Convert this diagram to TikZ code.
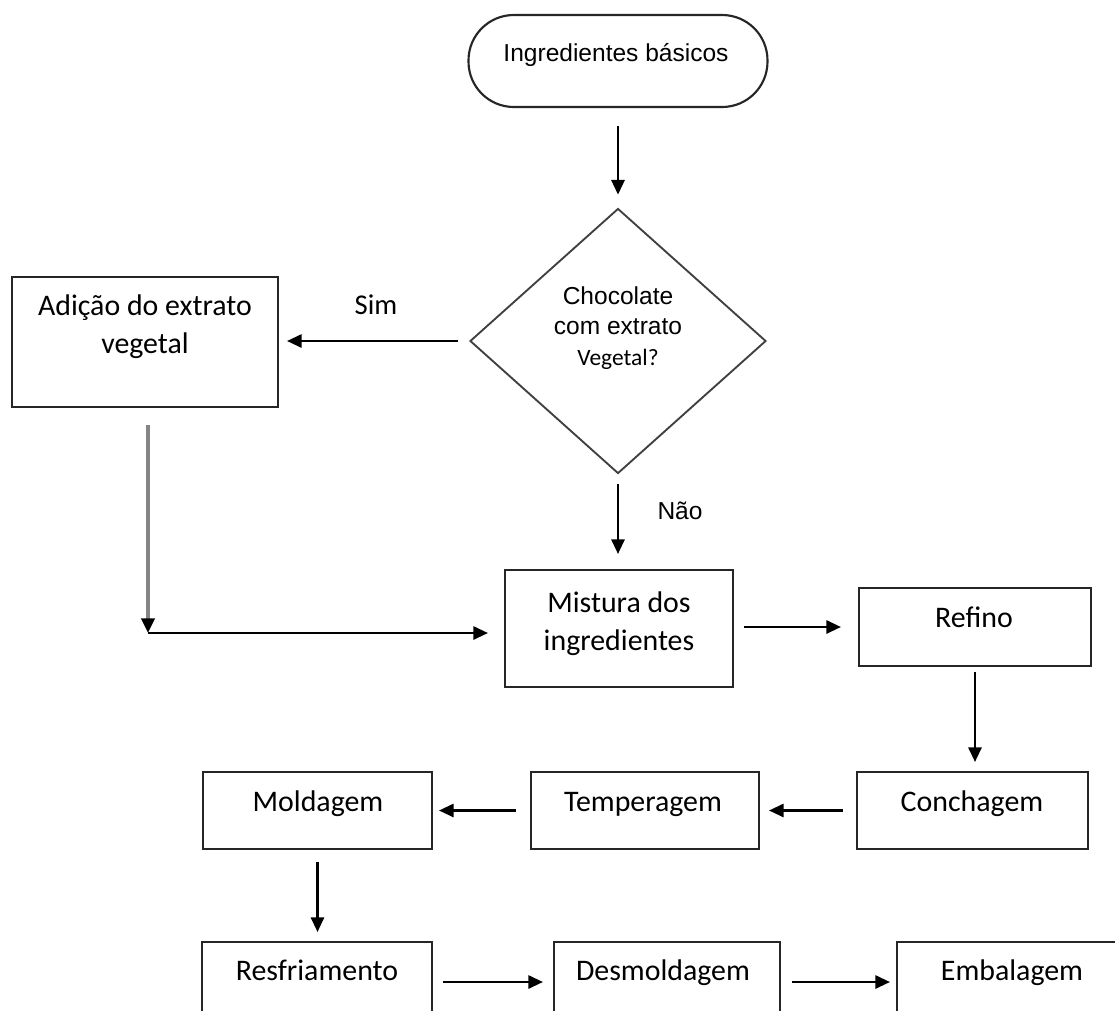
\documentclass[tikz,border=0pt]{standalone}
\usepackage{fontspec}
\setmainfont{Carlito}
\newfontfamily\arialf{Liberation Sans}
\usetikzlibrary{shapes.geometric,arrows.meta,calc}
\definecolor{boxgray}{HTML}{262626}
\definecolor{diagray}{HTML}{404040}
\definecolor{linegray}{HTML}{858585}
\begin{document}
\begin{tikzpicture}[x=0.75pt,y=-0.75pt,
  sz/.style 2 args={minimum width=#1*0.75pt,minimum height=#2*0.75pt},
  box/.style={draw=boxgray,line width=1.6pt,rectangle,inner sep=0pt},
  dia/.style={draw=diagray,line width=1.4pt,diamond,inner sep=0pt},
  term/.style={draw=boxgray,line width=1.6pt,rectangle,rounded corners=34pt,inner sep=0pt},
  lbl/.style={inner sep=0pt,align=center,text=black,font=\fontsize{22.4}{28.5}\selectfont},
  albl/.style={inner sep=0pt,align=center,text=black,font=\arialf\fontsize{18.4}{22.5}\selectfont},
  arr/.style={draw=black,line width=1.6pt,-{Triangle[length=11pt,width=10pt]}},
  grayarr/.style={draw=linegray,line width=2.4pt,-{Triangle[length=11pt,width=10pt,color=black]}},
]
\useasboundingbox (0,0) rectangle (1115,1011);
\fill[white] (0,0) rectangle (1115,1011);
\clip (0,0) rectangle (1115,1011);

% shapes
\node[term,sz={299}{92}] (start) at (618,61) {};
\node[dia,sz={296}{265}] (dec) at (618,341) {};
\node[box,sz={266}{130}] (adicao) at (145,342) {};
\node[box,sz={228}{117}] (mistura) at (619,628.5) {};
\node[box,sz={232}{78}] (refino) at (975,627) {};
\node[box,sz={231}{77}] (conch) at (972.5,810.5) {};
\node[box,sz={228}{77}] (temper) at (645,810.5) {};
\node[box,sz={229}{77}] (molda) at (317.5,810.5) {};
\node[box,sz={230}{100}] (resfr) at (317,992) {};
\node[box,sz={226}{100}] (desmol) at (667,992) {};
\node[box,sz={231}{100}] (embal) at (1012.5,992) {};

% texts
\node[albl,anchor=base] (tstart) at (616,61) {Ingredientes básicos};
\node[albl] (tdec) at (618,328) {Chocolate\\com extrato\\[1pt]{\rmfamily\fontsize{17.6}{22}\selectfont Vegetal?}};
\node[lbl] (tadicao) at (145,327) {Adição do extrato\\vegetal};
\node[lbl] (tmistura) at (619,624) {Mistura dos\\ingredientes};
\node[lbl,anchor=base] (trefino) at (974,627) {Refino};
\node[lbl,anchor=base] (tconch) at (972,811) {Conchagem};
\node[lbl,anchor=base] (ttemper) at (643,811) {Temperagem};
\node[lbl,anchor=base] (tmolda) at (318,811) {Moldagem};
\node[lbl,anchor=base] (tresfr) at (317,980) {Resfriamento};
\node[lbl,anchor=base] (tdesmol) at (663,980) {Desmoldagem};
\node[lbl,anchor=base] (tembal) at (1012,980) {Embalagem};
\node[lbl,anchor=base,font=\fontsize{21.5}{26}\selectfont] (tsim) at (376,314) {Sim};
\node[albl,anchor=base] (tnao) at (680,519) {Não};

% connectors
\draw[arr,shorten <=13.5pt,shorten >=9.75pt] (start.south) -- (dec.north);
\draw[arr,shorten <=8.25pt,shorten >=6pt] (dec.west) -- (dec.west -| adicao.east);
\draw[arr,shorten <=7.5pt,shorten >=11.25pt] (dec.south) -- (dec.south |- mistura.north);
\coordinate (j) at (148,633);
\draw[grayarr,shorten <=12.75pt] (adicao.south -| j) -- (j);
\draw[arr,shorten >=12pt] (j) -- (j -| mistura.west);
\draw[arr,shorten <=7.5pt,shorten >=12.75pt] (mistura.east |- refino.west) -- (refino.west);
\draw[arr,shorten <=3.75pt,shorten >=6.75pt] (refino.south) -- (refino.south |- conch.north);
\draw[arr,shorten <=9.75pt,shorten >=6.75pt] (conch.west) -- (temper.east);
\draw[arr,shorten <=10.5pt,shorten >=4.5pt] (temper.west) -- (molda.east);
\draw[arr,shorten <=9pt,shorten >=6.75pt] (molda.south) -- (molda.south |- resfr.north);
\coordinate (r1) at (resfr.east |- 0,982);
\coordinate (r2) at (desmol.west |- 0,982);
\coordinate (r3) at (desmol.east |- 0,982);
\coordinate (r4) at (embal.west |- 0,982);
\draw[arr,shorten <=7.5pt,shorten >=7.5pt] (r1) -- (r2);
\draw[arr,shorten <=8.25pt,shorten >=4.5pt] (r3) -- (r4);
\end{tikzpicture}
\end{document}
